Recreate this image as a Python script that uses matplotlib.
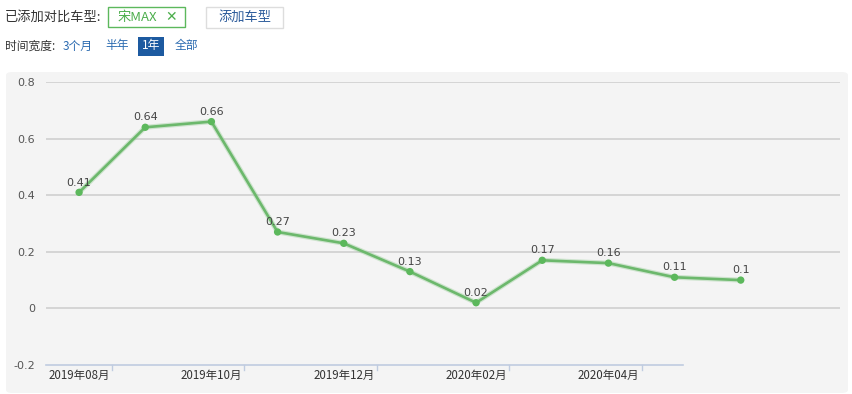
import matplotlib
matplotlib.use("Agg")
import matplotlib.pyplot as plt
from matplotlib.patches import FancyBboxPatch, Rectangle
from matplotlib.lines import Line2D

plt.rcParams['font.family'] = ['Noto Sans CJK SC', 'DejaVu Sans']

categories = ["2019年08月", "2019年09月", "2019年10月", "2019年11月", "2019年12月",
              "2020年01月", "2020年02月", "2020年03月", "2020年04月", "2020年05月",
              "2020年06月", "2020年07月"]
values = [0.41, 0.64, 0.66, 0.27, 0.23, 0.13, 0.02, 0.17, 0.16, 0.11, 0.1]
yticks = [-0.2, 0, 0.2, 0.4, 0.6, 0.8]
ytick_labels = ["-0.2", "0", "0.2", "0.4", "0.6", "0.8"]

W, H = 852, 394
fig = plt.figure(figsize=(W / 100, H / 100), dpi=100)
fig.patch.set_facecolor("white")

def fx(px):
    return px / W

def fy(py):
    return 1 - py / H

# panel background
panel = FancyBboxPatch((fx(6), fy(393)), fx(842), (393 - 72) / H,
                       boxstyle="round,pad=0,rounding_size=0.008",
                       transform=fig.transFigure, facecolor="#f4f4f4",
                       edgecolor="none", zorder=-5)
fig.patches.append(panel)

# header row 1
fig.text(fx(5), fy(17), "已添加对比车型:", fontsize=9.5, color="#333333", va="center", ha="left")
fig.patches.append(Rectangle((fx(108), fy(27)), fx(77), 20 / H, transform=fig.transFigure,
                             facecolor="white", edgecolor="#5cb85c", lw=1))
fig.text(fx(118), fy(17), "宋MAX", fontsize=9.5, color="#4cae4c", va="center", ha="left")
fig.text(fx(165), fy(17.5), "✕", fontsize=10, color="#4cae4c", va="center", ha="left",
         fontweight="bold", family=["DejaVu Sans"])
fig.patches.append(Rectangle((fx(206), fy(28)), fx(77), 21 / H, transform=fig.transFigure,
                             facecolor="white", edgecolor="#dddddd", lw=1))
fig.text(fx(244.5), fy(17.5), "添加车型", fontsize=9.5, color="#2a5a9a", va="center", ha="center")

# header row 2
fig.text(fx(5), fy(46), "时间宽度:", fontsize=8.5, color="#333333", va="center", ha="left")
fig.text(fx(63), fy(46), "3个月", fontsize=8.5, color="#2a6ab0", va="center", ha="left")
fig.text(fx(105), fy(46), "半年", fontsize=8.5, color="#2a6ab0", va="center", ha="left")
fig.patches.append(Rectangle((fx(138), fy(56)), fx(26), 19 / H, transform=fig.transFigure,
                             facecolor="#1d5aa0", edgecolor="none"))
fig.text(fx(151), fy(46), "1年", fontsize=8.5, color="white", va="center", ha="center")
fig.text(fx(175), fy(46), "全部", fontsize=8.5, color="#2a6ab0", va="center", ha="left")

# plot axes
ax = fig.add_axes([fx(46), fy(365), fx(840 - 46), (365 - 82) / H])
ax.set_zorder(2)
ax.set_facecolor("none")
x = list(range(len(values)))
ax.set_xlim(-0.5, len(categories) - 0.5)
ax.set_ylim(-0.2, 0.8)

for yv in yticks[1:]:
    ax.axhline(yv, color="#cccccc", lw=1.1, zorder=1)

# line with soft shadow
ax.plot(x, values, color="#9fd09f", lw=3.6, alpha=0.45, zorder=2, solid_capstyle="round")
ax.plot(x, values, color="#6cb86c", lw=1.9, zorder=3)
ax.scatter(x, values, s=28, color="#5cb85c", zorder=4, edgecolors="none")
for xi, v in zip(x, values):
    ax.annotate(f"{v:g}", (xi, v), xytext=(0, 3.5), textcoords="offset points",
                ha="center", va="bottom", fontsize=8, color="#444444",
                family=["DejaVu Sans"], zorder=5)

for s in ax.spines.values():
    s.set_visible(False)

# x axis line (bluish) and ticks
ax.add_line(Line2D([-0.5, 9.12], [-0.2, -0.2], color="#c0cce0", lw=1.2, clip_on=False, zorder=2))
shown = list(range(0, len(values), 2))[:5]
ax.set_xticks(shown)
ax.set_xticklabels([categories[i] for i in shown], fontsize=8.3, color="#333333",
                   fontweight="medium")
ax.tick_params(axis="x", length=0, pad=3)
for i in shown:
    ax.add_line(Line2D([i + 0.5, i + 0.5], [-0.2, -0.2 - 0.018], color="#c0cce0", lw=1,
                       clip_on=False))

ax.set_yticks(yticks)
ax.set_yticklabels(ytick_labels, fontsize=8, color="#555555", family=["DejaVu Sans"])
ax.tick_params(axis="y", length=0, pad=8)

fig.savefig("out.png", dpi=100)
